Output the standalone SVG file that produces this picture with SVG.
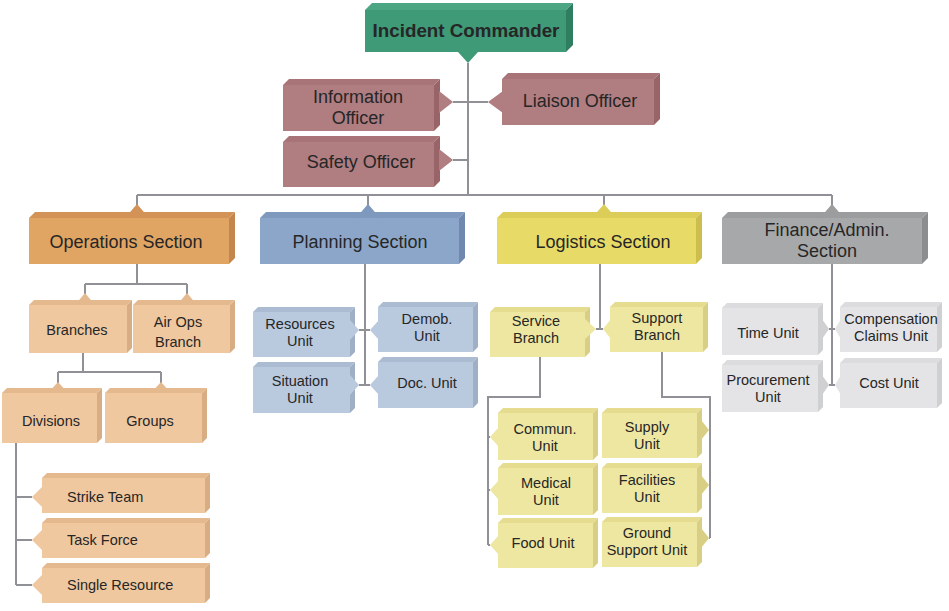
<svg xmlns="http://www.w3.org/2000/svg" width="949" height="611" viewBox="0 0 949 611">
<style>
text{font-family:"Liberation Sans",Arial,sans-serif;fill:#262626;text-anchor:middle}
.s17{font-size:18px}.s14{font-size:14.5px}.b{font-weight:bold;font-size:18.8px}.l{text-anchor:start}
.con{stroke:#8f9197;stroke-width:2;fill:none}
.ic .f{fill:#3f9a78}.ic .t{fill:#4ca684}.ic .r{fill:#2f7e60}
.off .f{fill:#b07d81}.off .t{fill:#a87478}.off .r{fill:#986468}
.ops .f{fill:#e0a463}.ops .t{fill:#d39356}.ops .r{fill:#c4864c}
.opc .f{fill:#efc8a0}.opc .t{fill:#e5b98e}.opc .r{fill:#d9ad83}
.pln .f{fill:#8ca6ca}.pln .t{fill:#7f98bd}.pln .r{fill:#7088ad}
.plc .f{fill:#b9c9de}.plc .t{fill:#aabbd2}.plc .r{fill:#9eafc6}
.log .f{fill:#e8da66}.log .t{fill:#dccd58}.log .r{fill:#cbbd4e}
.loc .f{fill:#eee7a2}.loc .t{fill:#e5dc90}.loc .r{fill:#d8cf84}
.fin .f{fill:#a7a8aa}.fin .t{fill:#9c9d9f}.fin .r{fill:#8c8d8f}
.fic .f{fill:#e4e4e6}.fic .t{fill:#dcdcde}.fic .r{fill:#cfd0d2}
</style>
<rect width="949" height="611" fill="#ffffff"/>
<g id="connectors" class="con">
<path d="M468,63V195M453,102H488M453,160H468"/>
<path d="M137,195H832M137,195V205M368,195V205M604,195V205M832,195V205"/>
<path d="M137,264V284M85,284H187M85,284V294M187,284V294M83,353V372M58,372H161M58,372V383M161,372V383"/>
<path d="M16,443V585M16,497H32M16,540H32M16,585H32"/>
<path d="M365,264V385M359,330H370M359,385H370"/>
<path d="M600,264V329M596,329H603"/>
<path d="M540,357V397H488V545M488,437H490M488,490H490M488,545H490"/>
<path d="M662,352V397H710V538M709,430H710M709,485H710M709,538H710"/>
<path d="M832,264V385M829,329H835M829,385H835"/>
</g>
<g id="incident-commander" class="ic">
<rect class="f" x="365" y="10" width="201" height="42"/>
<polygon class="t" points="365,10 372,3 573,3 566,10"/>
<polygon class="r" points="566,10 573,3 573,45 566,52"/>
<polygon class="f" points="458,52 478,52 468,63"/>
<text class="b" x="466" y="37">Incident Commander</text>
</g>
<g id="information-officer" class="off">
<rect class="f" x="283" y="85" width="151" height="46"/>
<polygon class="t" points="283,85 289,79 440,79 434,85"/>
<polygon class="r" points="434,85 440,79 440,125 434,131"/>
<polygon class="f" points="439,91 453,102 439,113"/>
<text class="s17" x="358" y="103">Information<tspan x="358" y="124">Officer</tspan></text>
</g>
<g id="liaison-officer" class="off">
<rect class="f" x="502" y="79" width="152" height="46"/>
<polygon class="t" points="502,79 508,73 660,73 654,79"/>
<polygon class="r" points="654,79 660,73 660,119 654,125"/>
<polygon class="f" points="503,91 488,102 503,113"/>
<text class="s17" x="580" y="107">Liaison Officer</text>
</g>
<g id="safety-officer" class="off">
<rect class="f" x="283" y="142" width="151" height="45"/>
<polygon class="t" points="283,142 289,136 440,136 434,142"/>
<polygon class="r" points="434,142 440,136 440,181 434,187"/>
<polygon class="f" points="439,149 453,160 439,171"/>
<text class="s17" x="361" y="168">Safety Officer</text>
</g>
<g id="operations-section" class="ops">
<rect class="f" x="29" y="218" width="200" height="46"/>
<polygon class="t" points="29,218 35,212 235,212 229,218"/>
<polygon class="r" points="229,218 235,212 235,258 229,264"/>
<polygon class="t" points="125,218 137,204 149,218"/>
<text class="s17" x="126" y="248">Operations Section</text>
</g>
<g id="planning-section" class="pln">
<rect class="f" x="260" y="218" width="199" height="46"/>
<polygon class="t" points="260,218 266,212 465,212 459,218"/>
<polygon class="r" points="459,218 465,212 465,258 459,264"/>
<polygon class="t" points="356,218 368,204 380,218"/>
<text class="s17" x="360" y="248">Planning Section</text>
</g>
<g id="logistics-section" class="log">
<rect class="f" x="497" y="218" width="199" height="46"/>
<polygon class="t" points="497,218 503,212 702,212 696,218"/>
<polygon class="r" points="696,218 702,212 702,258 696,264"/>
<polygon class="t" points="592,218 604,204 616,218"/>
<text class="s17" x="603" y="248">Logistics Section</text>
</g>
<g id="finance-section" class="fin">
<rect class="f" x="722" y="218" width="200" height="46"/>
<polygon class="t" points="722,218 728,212 928,212 922,218"/>
<polygon class="r" points="922,218 928,212 928,258 922,264"/>
<polygon class="t" points="820,218 832,204 844,218"/>
<text class="s17" x="827" y="236">Finance/Admin.<tspan x="827" y="257">Section</tspan></text>
</g>
<g id="branches" class="opc">
<rect class="f" x="29" y="305" width="98" height="48"/>
<polygon class="t" points="29,305 34,300 132,300 127,305"/>
<polygon class="r" points="127,305 132,300 132,348 127,353"/>
<polygon class="t" points="75,305 85,293 95,305"/>
<text class="s14" x="77" y="335">Branches</text>
</g>
<g id="air-ops-branch" class="opc">
<rect class="f" x="133" y="305" width="97" height="48"/>
<polygon class="t" points="133,305 138,300 235,300 230,305"/>
<polygon class="r" points="230,305 235,300 235,348 230,353"/>
<polygon class="t" points="177,305 187,293 197,305"/>
<text class="s14" x="178" y="327">Air Ops<tspan x="178" y="347">Branch</tspan></text>
</g>
<g id="divisions" class="opc">
<rect class="f" x="2" y="393" width="95" height="50"/>
<polygon class="t" points="2,393 7,388 102,388 97,393"/>
<polygon class="r" points="97,393 102,388 102,438 97,443"/>
<polygon class="t" points="48,393 58,382 68,393"/>
<text class="s14" x="51" y="426">Divisions</text>
</g>
<g id="groups" class="opc">
<rect class="f" x="105" y="393" width="97" height="50"/>
<polygon class="t" points="105,393 110,388 207,388 202,393"/>
<polygon class="r" points="202,393 207,388 207,438 202,443"/>
<polygon class="t" points="151,393 161,382 171,393"/>
<text class="s14" x="150" y="426">Groups</text>
</g>
<g id="strike-team" class="opc">
<rect class="f" x="42" y="478" width="163" height="35"/>
<polygon class="t" points="42,478 47,473 210,473 205,478"/>
<polygon class="r" points="205,478 210,473 210,508 205,513"/>
<polygon class="f" points="43,486 32,497 43,508"/>
<text class="s14 l" x="67" y="502">Strike Team</text>
</g>
<g id="task-force" class="opc">
<rect class="f" x="42" y="523" width="163" height="35"/>
<polygon class="t" points="42,523 47,518 210,518 205,523"/>
<polygon class="r" points="205,523 210,518 210,553 205,558"/>
<polygon class="f" points="43,529 32,540 43,551"/>
<text class="s14 l" x="67" y="545">Task Force</text>
</g>
<g id="single-resource" class="opc">
<rect class="f" x="42" y="568" width="163" height="35"/>
<polygon class="t" points="42,568 47,563 210,563 205,568"/>
<polygon class="r" points="205,568 210,563 210,598 205,603"/>
<polygon class="f" points="43,574 32,585 43,596"/>
<text class="s14 l" x="67" y="590">Single Resource</text>
</g>
<g id="resources-unit" class="plc">
<rect class="f" x="253" y="312" width="97" height="45"/>
<polygon class="t" points="253,312 258,307 355,307 350,312"/>
<polygon class="r" points="350,312 355,307 355,352 350,357"/>
<polygon class="f" points="350,320 359,330 350,340"/>
<text class="s14" x="300" y="329">Resources<tspan x="300" y="346">Unit</tspan></text>
</g>
<g id="demob-unit" class="plc">
<rect class="f" x="378" y="307" width="95" height="45"/>
<polygon class="t" points="378,307 383,302 478,302 473,307"/>
<polygon class="r" points="473,307 478,302 478,347 473,352"/>
<polygon class="f" points="379,320 370,330 379,340"/>
<text class="s14" x="427" y="324">Demob.<tspan x="427" y="341">Unit</tspan></text>
</g>
<g id="situation-unit" class="plc">
<rect class="f" x="253" y="367" width="97" height="46"/>
<polygon class="t" points="253,367 258,362 355,362 350,367"/>
<polygon class="r" points="350,367 355,362 355,408 350,413"/>
<polygon class="f" points="350,375 359,385 350,395"/>
<text class="s14" x="300" y="386">Situation<tspan x="300" y="403">Unit</tspan></text>
</g>
<g id="doc-unit" class="plc">
<rect class="f" x="378" y="362" width="95" height="46"/>
<polygon class="t" points="378,362 383,357 478,357 473,362"/>
<polygon class="r" points="473,362 478,357 478,403 473,408"/>
<polygon class="f" points="379,375 370,385 379,395"/>
<text class="s14" x="427" y="388">Doc. Unit</text>
</g>
<g id="service-branch" class="loc">
<rect class="f" x="490" y="312" width="95" height="45"/>
<polygon class="t" points="490,312 495,307 590,307 585,312"/>
<polygon class="r" points="585,312 590,307 590,352 585,357"/>
<polygon class="f" points="585,319 596,329 585,339"/>
<text class="s14" x="536" y="326">Service<tspan x="536" y="343">Branch</tspan></text>
</g>
<g id="support-branch" class="loc">
<rect class="f" x="610" y="307" width="93" height="45"/>
<polygon class="t" points="610,307 615,302 708,302 703,307"/>
<polygon class="r" points="703,307 708,302 708,347 703,352"/>
<polygon class="f" points="611,319 603,329 611,339"/>
<text class="s14" x="657" y="323">Support<tspan x="657" y="340">Branch</tspan></text>
</g>
<g id="commun-unit" class="loc">
<rect class="f" x="498" y="413" width="95" height="47"/>
<polygon class="t" points="498,413 503,408 598,408 593,413"/>
<polygon class="r" points="593,413 598,408 598,455 593,460"/>
<polygon class="f" points="499,427 490,437 499,447"/>
<text class="s14" x="545" y="434">Commun.<tspan x="545" y="451">Unit</tspan></text>
</g>
<g id="medical-unit" class="loc">
<rect class="f" x="498" y="468" width="95" height="47"/>
<polygon class="t" points="498,468 503,463 598,463 593,468"/>
<polygon class="r" points="593,468 598,463 598,510 593,515"/>
<polygon class="f" points="499,480 490,490 499,500"/>
<text class="s14" x="546" y="488">Medical<tspan x="546" y="505">Unit</tspan></text>
</g>
<g id="food-unit" class="loc">
<rect class="f" x="498" y="523" width="95" height="45"/>
<polygon class="t" points="498,523 503,518 598,518 593,523"/>
<polygon class="r" points="593,523 598,518 598,563 593,568"/>
<polygon class="f" points="499,535 490,545 499,555"/>
<text class="s14" x="543" y="548">Food Unit</text>
</g>
<g id="supply-unit" class="loc">
<rect class="f" x="602" y="413" width="95" height="45"/>
<polygon class="t" points="602,413 607,408 702,408 697,413"/>
<polygon class="r" points="697,413 702,408 702,453 697,458"/>
<polygon class="r" points="701,420 709,430 701,440"/>
<text class="s14" x="647" y="432">Supply<tspan x="647" y="449">Unit</tspan></text>
</g>
<g id="facilities-unit" class="loc">
<rect class="f" x="602" y="468" width="95" height="45"/>
<polygon class="t" points="602,468 607,463 702,463 697,468"/>
<polygon class="r" points="697,468 702,463 702,508 697,513"/>
<polygon class="r" points="701,475 709,485 701,495"/>
<text class="s14" x="647" y="485">Facilities<tspan x="647" y="502">Unit</tspan></text>
</g>
<g id="ground-support-unit" class="loc">
<rect class="f" x="602" y="522" width="95" height="45"/>
<polygon class="t" points="602,522 607,517 702,517 697,522"/>
<polygon class="r" points="697,522 702,517 702,562 697,567"/>
<polygon class="r" points="701,528 709,538 701,548"/>
<text class="s14" x="647" y="538">Ground<tspan x="647" y="555">Support Unit</tspan></text>
</g>
<g id="time-unit" class="fic">
<rect class="f" x="722" y="308" width="96" height="47"/>
<polygon class="t" points="722,308 727,303 823,303 818,308"/>
<polygon class="r" points="818,308 823,303 823,350 818,355"/>
<polygon class="r" points="822,319 829,329 822,339"/>
<text class="s14" x="768" y="338">Time Unit</text>
</g>
<g id="compensation-claims-unit" class="fic">
<rect class="f" x="840" y="307" width="97" height="45"/>
<polygon class="t" points="840,307 845,302 942,302 937,307"/>
<polygon class="r" points="937,307 942,302 942,347 937,352"/>
<polygon class="f" points="841,319 835,329 841,339"/>
<text class="s14" x="891" y="324">Compensation<tspan x="891" y="341">Claims Unit</tspan></text>
</g>
<g id="procurement-unit" class="fic">
<rect class="f" x="722" y="365" width="96" height="47"/>
<polygon class="t" points="722,365 727,360 823,360 818,365"/>
<polygon class="r" points="818,365 823,360 823,407 818,412"/>
<polygon class="r" points="822,375 829,385 822,395"/>
<text class="s14" x="768" y="385">Procurement<tspan x="768" y="402">Unit</tspan></text>
</g>
<g id="cost-unit" class="fic">
<rect class="f" x="840" y="363" width="97" height="45"/>
<polygon class="t" points="840,363 845,358 942,358 937,363"/>
<polygon class="r" points="937,363 942,358 942,403 937,408"/>
<polygon class="f" points="841,375 835,385 841,395"/>
<text class="s14" x="889" y="388">Cost Unit</text>
</g>
</svg>
